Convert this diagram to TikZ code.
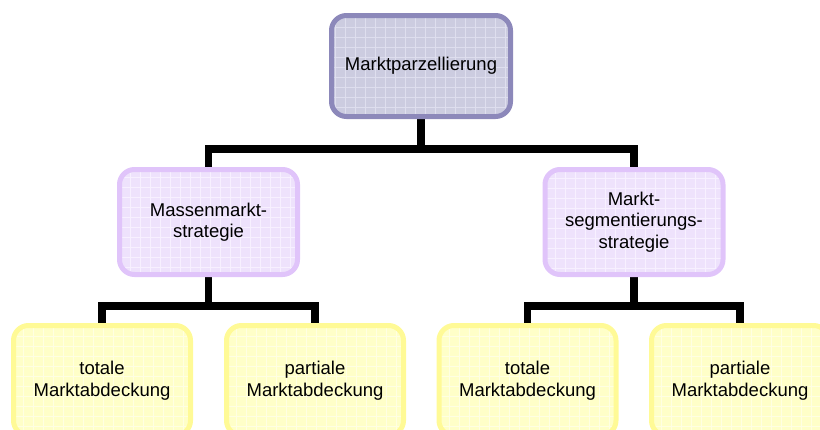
\documentclass[tikz,border=0pt]{standalone}
\usepackage{fontspec}
\setmainfont{Liberation Sans}
\usepackage{tikz}
\usetikzlibrary{calc, backgrounds}

\definecolor{topfill}{RGB}{204,204,224}
\definecolor{topline}{RGB}{140,136,186}
\definecolor{topgrid}{RGB}{222,222,238}
\definecolor{midfill}{RGB}{238,226,252}
\definecolor{midline}{RGB}{224,196,250}
\definecolor{midgrid}{RGB}{247,240,255}
\definecolor{lowfill}{RGB}{255,255,200}
\definecolor{lowline}{RGB}{255,250,150}
\definecolor{lowgrid}{RGB}{255,255,226}

\tikzset{
    box/.style={rounded corners=15pt, line width=5pt, align=center,
        inner sep=0pt, font=\fontsize{18.5}{21.5}\selectfont},
    topbox/.style={box, draw=topline, fill=topfill,
        minimum width=179pt, minimum height=101pt,
        path picture={\draw[topgrid, line width=0.6pt]
            (path picture bounding box.south west) grid[step=10pt]
            (path picture bounding box.north east);}},
    midbox/.style={box, draw=midline, fill=midfill,
        minimum width=178pt, minimum height=105pt,
        path picture={\draw[midgrid, line width=0.6pt]
            (path picture bounding box.south west) grid[step=10pt]
            (path picture bounding box.north east);}},
    lowbox/.style={box, draw=lowline, fill=lowfill,
        minimum width=177pt, minimum height=110pt,
        path picture={\draw[lowgrid, line width=0.6pt]
            (path picture bounding box.south west) grid[step=10pt]
            (path picture bounding box.north east);}},
    conn/.style={line width=7.5pt, black, line join=miter}
}

\begin{document}
\begin{tikzpicture}[x=1pt, y=-1pt]

    \useasboundingbox (0,0) rectangle (820,429);

    % 1. Top level
    \node[topbox] (parz) at (421,66) {\raisebox{-3pt}{Marktparzellierung}};

    % 2. Second level
    \node[midbox] (masse) at (208.5,222) {Massenmarkt-\\strategie};
    \node[midbox] (segm) at (634,222) {Markt-\\segmentierungs-\\strategie};

    % 3. Third level
    \node[lowbox] (totL) at (102,380.5) {totale\\Marktabdeckung};
    \node[lowbox] (parL) at (315,380.5) {partiale\\Marktabdeckung};
    \node[lowbox] (totR) at (527.5,380.5) {totale\\Marktabdeckung};
    \node[lowbox] (parR) at (740,380.5) {partiale\\Marktabdeckung};

    % 4. Heights of the horizontal bars
    \coordinate (bar1) at (0,149);
    \coordinate (bar2) at (0,306);

    % 5. Connectors, behind the boxes
    \begin{scope}[on background layer]
        \draw[conn] (parz.south) -- (parz.south |- bar1) -| (masse.north);
        \draw[conn] (parz.south |- bar1) -| (segm.north);
        \draw[conn] (masse.south) -- (masse.south |- bar2) -| (totL.north);
        \draw[conn] (masse.south |- bar2) -| (parL.north);
        \draw[conn] (segm.south) -- (segm.south |- bar2) -| (totR.north);
        \draw[conn] (segm.south |- bar2) -| (parR.north);
    \end{scope}

\end{tikzpicture}
\end{document}
